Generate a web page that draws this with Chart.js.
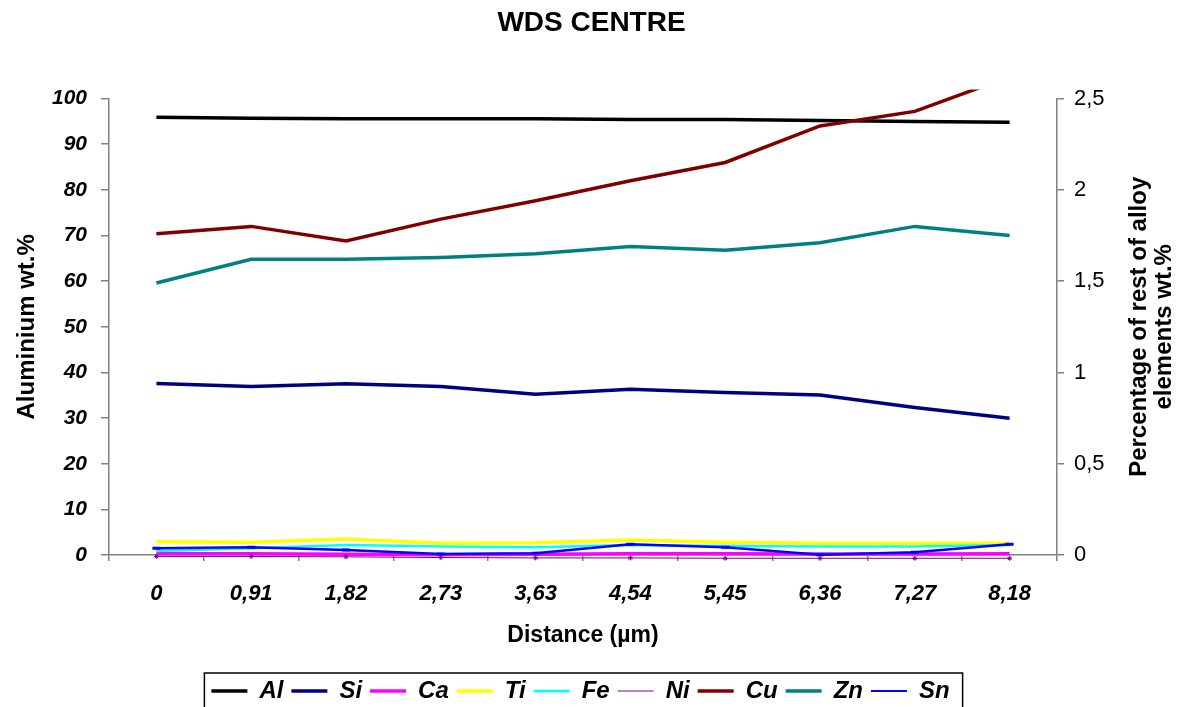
<!DOCTYPE html>
<html>
<head>
<meta charset="utf-8">
<title>WDS CENTRE</title>
<script src="https://cdn.jsdelivr.net/npm/chart.js@4.4.1/dist/chart.umd.min.js"></script>
<style>
  html, body { margin: 0; padding: 0; background: #fff; }
</style>
</head>
<body>
<canvas id="wds" width="1183" height="707"></canvas>
<script>
// ------------- Data -------------
const distances = ['0', '0,91', '1,82', '2,73', '3,63', '4,54', '5,45', '6,36', '7,27', '8,18'];

// aluminium, left axis (wt.%)
const al = [95.9, 95.7, 95.6, 95.6, 95.6, 95.4, 95.4, 95.2, 95.0, 94.8];

// rest of the alloy elements, right axis (wt.%)
const si = [0.94, 0.923, 0.938, 0.923, 0.881, 0.908, 0.89, 0.877, 0.808, 0.749];
const ca = [0.007, 0.007, 0.004, 0.002, 0.004, 0.007, 0.007, 0.006, 0.006, 0.007];
const ti = [0.073, 0.07, 0.088, 0.064, 0.067, 0.082, 0.07, 0.064, 0.064, 0.064];
const fe = [0.022, 0.037, 0.055, 0.046, 0.042, 0.055, 0.049, 0.046, 0.046, 0.055];
const ni = [-0.008, -0.008, -0.01, -0.014, -0.016, -0.016, -0.018, -0.018, -0.018, -0.018];
const cu = [1.76, 1.8, 1.72, 1.84, 1.94, 2.05, 2.15, 2.35, 2.43, 2.62];
const zn = [1.49, 1.62, 1.62, 1.63, 1.65, 1.69, 1.67, 1.71, 1.8, 1.75];
const sn = [0.037, 0.042, 0.027, 0.005, 0.009, 0.059, 0.042, 0.002, 0.015, 0.059];

const alTicks = [0, 10, 20, 30, 40, 50, 60, 70, 80, 90, 100];
const restTicks = [0, 0.5, 1, 1.5, 2, 2.5];

// ------------- Series styling -------------
const FONT = '"Liberation Sans", Arial, Helvetica, sans-serif';
const GREY = '#808080';

const series = [
  { label: 'Al', data: al, color: '#000000', width: 3.5, axis: 'y' },
  { label: 'Si', data: si, color: '#000080', width: 3.5, axis: 'y2' },
  { label: 'Ca', data: ca, color: '#ff00ff', width: 3.5, axis: 'y2' },
  { label: 'Ti', data: ti, color: '#ffff00', width: 3.5, axis: 'y2' },
  { label: 'Fe', data: fe, color: '#00ffff', width: 2.5, axis: 'y2' },
  { label: 'Ni', data: ni, color: '#800080', width: 1, axis: 'y2', point: 'star', radius: 2.5 },
  { label: 'Cu', data: cu, color: '#800000', width: 3.5, axis: 'y2' },
  { label: 'Zn', data: zn, color: '#008080', width: 3.5, axis: 'y2' },
  { label: 'Sn', data: sn, color: '#0000ff', width: 2.5, axis: 'y2', point: 'line', radius: 4 }
];

const datasets = series.map((s, i) => ({
  label: s.label,
  data: s.data,
  yAxisID: s.axis,
  borderColor: s.color,
  backgroundColor: s.color,
  borderWidth: s.width,
  tension: 0,
  fill: false,
  pointStyle: s.point || 'circle',
  pointRadius: s.radius || 0,
  pointBorderWidth: s.point === 'line' ? 3 : 1,
  pointBorderColor: s.color,
  // later series sit on top, like the spreadsheet draws them
  order: series.length - i,
  clip: s.label === 'Ni' ? false : { left: 5, top: 9, right: 5, bottom: 5 }
}));

// ------------- Extra drawing -------------
// right-hand title reads bottom-to-top on two lines
const rightTitle = {
  id: 'rightTitle',
  afterDraw(chart) {
    const { ctx, chartArea } = chart;
    const x0 = chart.scales.y2.left;
    const cy = (chartArea.top + chartArea.bottom) / 2;
    ctx.save();
    ctx.font = `bold 24px ${FONT}`;
    ctx.fillStyle = '#000';
    ctx.textAlign = 'center';
    ctx.textBaseline = 'middle';
    [['Percentage of rest of alloy', 82], ['elements wt.%', 107]].forEach(([txt, dx]) => {
      ctx.save();
      ctx.translate(x0 + dx, cy);
      ctx.rotate(-Math.PI / 2);
      ctx.fillText(txt, 0, 0);
      ctx.restore();
    });
    ctx.restore();
  }
};

// legend row sits a little left of centre, in a thin black frame
const legendFrame = {
  id: 'legendFrame',
  afterLayout(chart) {
    const lg = chart.legend;
    if (!lg) return;
    lg.left -= 11;
    lg.right -= 11;
  },
  afterDraw(chart) {
    const lg = chart.legend;
    if (!lg || !lg.legendHitBoxes.length) return;
    const boxes = lg.legendHitBoxes;
    const left = Math.min(...boxes.map(b => b.left)) - 7;
    const right = Math.max(...boxes.map(b => b.left + b.width)) + 13;
    const top = lg.top + 2;
    const { ctx } = chart;
    ctx.save();
    ctx.strokeStyle = '#000';
    ctx.lineWidth = 1.5;
    ctx.strokeRect(left, top, right - left, chart.height - top + 10);
    ctx.restore();
  }
};

// ------------- Chart -------------
Chart.defaults.font.family = FONT;
Chart.defaults.color = '#000';

new Chart(document.getElementById('wds'), {
  type: 'line',
  data: { labels: distances, datasets },
  plugins: [rightTitle, legendFrame],
  options: {
    responsive: false,
    animation: false,
    events: [],
    layout: { padding: { bottom: -6 } },
    plugins: {
      tooltip: { enabled: false },
      title: {
        display: true,
        text: 'WDS CENTRE',
        color: '#000',
        font: { size: 28, weight: 'bold' },
        padding: { top: 6, bottom: 59 }
      },
      legend: {
        position: 'bottom',
        labels: {
          usePointStyle: true,
          pointStyle: 'line',
          pointStyleWidth: 36,
          padding: 8,
          color: '#000',
          font: { size: 24, weight: 'bold', style: 'italic' },
          sort: (a, b) => a.datasetIndex - b.datasetIndex,
          // legend samples use the series line width, not the point border
          generateLabels(chart) {
            const items = Chart.defaults.plugins.legend.labels.generateLabels(chart);
            items.forEach(it => {
              const ds = chart.data.datasets[it.datasetIndex];
              it.lineWidth = ds.label === 'Sn' ? 2 : ds.borderWidth;
              it.strokeStyle = ds.borderColor;
            });
            return items;
          }
        }
      }
    },
    scales: {
      x: {
        type: 'category',
        offset: true,
        grid: { offset: true, drawOnChartArea: false, tickLength: 6, color: GREY, lineWidth: 1.5 },
        border: { color: GREY, width: 1.5 },
        ticks: { font: { size: 22, weight: 'bold', style: 'italic' }, padding: 20, maxRotation: 0, autoSkip: false },
        title: {
          display: true,
          text: 'Distance (µm)',
          font: { size: 23, weight: 'bold' },
          padding: { top: 0, bottom: 22 }
        },
        afterFit(s) { s.height = 116; }
      },
      y: {
        position: 'left',
        min: 0,
        max: 100,
        afterBuildTicks(s) { s.ticks = alTicks.map(v => ({ value: v })); },
        grid: { drawOnChartArea: false, tickLength: 8, color: GREY, lineWidth: 1.5 },
        border: { color: GREY, width: 1.5 },
        ticks: { font: { size: 21, weight: 'bold', style: 'italic' }, padding: 14 },
        title: {
          display: true,
          text: 'Aluminium wt.%',
          font: { size: 24, weight: 'bold' },
          padding: { top: 13, bottom: 0 }
        },
        afterFit(s) { s.width = 109; }
      },
      y2: {
        position: 'right',
        min: 0,
        max: 2.5,
        afterBuildTicks(s) { s.ticks = restTicks.map(v => ({ value: v })); },
        grid: { drawOnChartArea: false, tickLength: 7, color: GREY, lineWidth: 1.5 },
        border: { color: GREY, width: 1.5 },
        ticks: {
          font: { size: 22 },
          padding: 10,
          callback: v => String(v).replace('.', ',')
        },
        afterFit(s) { s.width = 126; }
      }
    }
  }
});
</script>
</body>
</html>
